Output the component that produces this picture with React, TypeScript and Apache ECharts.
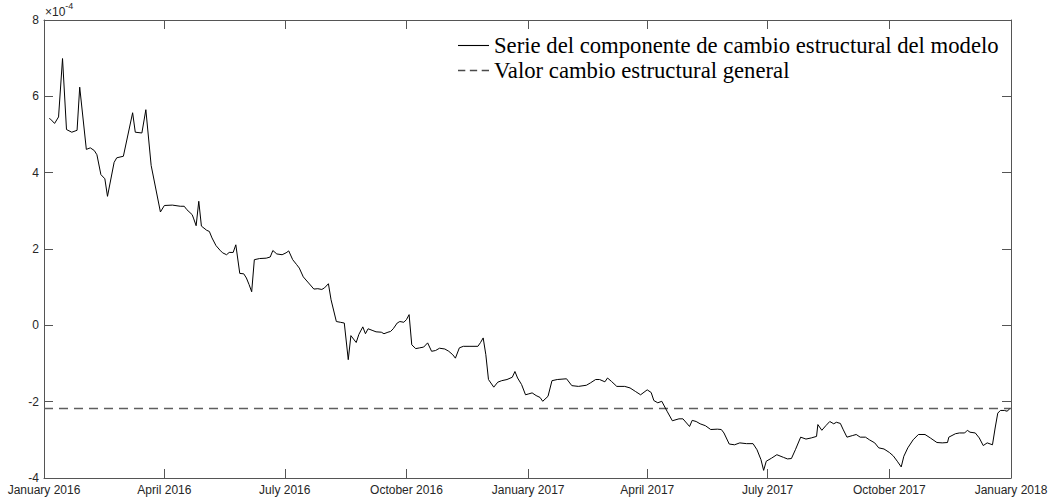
import React, { useEffect, useRef } from "react";
import * as echarts from "echarts";

const monthNames = [
  "January", "February", "March", "April", "May", "June",
  "July", "August", "September", "October", "November", "December",
];

const seriesNames = [
  "Serie del componente de cambio estructural del modelo",
  "Valor cambio estructural general",
];

// values in units of 1e-4
const dates = [
  "2016-01-05", "2016-01-06", "2016-01-09", "2016-01-12", "2016-01-15", "2016-01-18", "2016-01-22", "2016-01-26", "2016-01-28",
  "2016-02-02", "2016-02-05", "2016-02-08", "2016-02-10", "2016-02-13", "2016-02-16", "2016-02-18", "2016-02-23", "2016-02-25",
  "2016-03-01", "2016-03-08", "2016-03-10", "2016-03-15", "2016-03-18", "2016-03-22", "2016-03-29",
  "2016-04-01", "2016-04-07", "2016-04-13", "2016-04-16", "2016-04-18", "2016-04-22", "2016-04-23", "2016-04-25", "2016-04-27", "2016-04-29",
  "2016-05-03", "2016-05-05", "2016-05-07", "2016-05-10", "2016-05-13", "2016-05-15", "2016-05-18", "2016-05-20", "2016-05-23", "2016-05-25", "2016-05-28", "2016-05-31",
  "2016-06-02", "2016-06-04", "2016-06-06", "2016-06-08", "2016-06-12", "2016-06-17", "2016-06-20", "2016-06-22", "2016-06-25", "2016-06-29",
  "2016-07-02", "2016-07-04", "2016-07-07", "2016-07-10", "2016-07-12", "2016-07-15", "2016-07-19", "2016-07-23", "2016-07-26", "2016-07-29", "2016-07-31",
  "2016-08-03", "2016-08-05", "2016-08-09", "2016-08-12", "2016-08-15", "2016-08-18", "2016-08-20", "2016-08-24", "2016-08-26", "2016-08-29", "2016-08-31",
  "2016-09-02", "2016-09-05", "2016-09-08", "2016-09-12", "2016-09-14", "2016-09-17", "2016-09-19", "2016-09-21", "2016-09-24", "2016-09-26", "2016-09-29",
  "2016-10-01", "2016-10-03", "2016-10-05", "2016-10-08", "2016-10-11", "2016-10-14", "2016-10-17", "2016-10-20", "2016-10-23", "2016-10-26", "2016-10-30",
  "2016-11-02", "2016-11-05", "2016-11-07", "2016-11-10", "2016-11-13", "2016-11-18", "2016-11-24", "2016-11-26", "2016-11-28", "2016-11-30",
  "2016-12-02", "2016-12-06", "2016-12-09", "2016-12-12", "2016-12-16", "2016-12-20", "2016-12-22", "2016-12-24", "2016-12-27", "2016-12-30",
  "2017-01-01", "2017-01-04", "2017-01-07", "2017-01-10", "2017-01-12", "2017-01-16", "2017-01-19", "2017-01-23", "2017-01-30",
  "2017-02-03", "2017-02-08", "2017-02-14", "2017-02-17", "2017-02-21", "2017-02-24", "2017-02-28",
  "2017-03-02", "2017-03-05", "2017-03-09", "2017-03-15", "2017-03-19", "2017-03-23", "2017-03-27",
  "2017-04-01", "2017-04-04", "2017-04-06", "2017-04-09", "2017-04-12", "2017-04-16", "2017-04-20", "2017-04-25", "2017-04-28",
  "2017-05-03", "2017-05-05", "2017-05-08", "2017-05-11", "2017-05-15", "2017-05-19", "2017-05-24", "2017-05-27", "2017-05-29",
  "2017-06-02", "2017-06-06", "2017-06-10", "2017-06-15", "2017-06-20", "2017-06-23", "2017-06-26", "2017-06-28", "2017-06-30",
  "2017-07-04", "2017-07-08", "2017-07-13", "2017-07-16", "2017-07-19", "2017-07-22", "2017-07-26", "2017-07-30",
  "2017-08-03", "2017-08-07", "2017-08-08", "2017-08-11", "2017-08-14", "2017-08-17", "2017-08-20", "2017-08-22", "2017-08-25", "2017-08-27", "2017-08-30",
  "2017-09-03", "2017-09-06", "2017-09-09", "2017-09-13", "2017-09-16", "2017-09-20", "2017-09-23", "2017-09-27",
  "2017-10-01", "2017-10-04", "2017-10-07", "2017-10-10", "2017-10-12", "2017-10-15", "2017-10-19", "2017-10-23", "2017-10-28",
  "2017-11-01", "2017-11-06", "2017-11-10", "2017-11-14", "2017-11-15", "2017-11-20", "2017-11-23", "2017-11-27", "2017-11-29",
  "2017-12-01", "2017-12-05", "2017-12-08", "2017-12-11", "2017-12-14", "2017-12-18", "2017-12-20", "2017-12-22", "2017-12-24", "2017-12-27", "2017-12-29", "2017-12-31",
];

const componentValues = [
  5.42, 5.40, 5.29, 5.46, 6.99, 5.13, 5.06, 5.11, 6.24,
  4.61, 4.65, 4.58, 4.47, 3.95, 3.84, 3.38, 4.27, 4.39,
  4.43, 5.57, 5.06, 5.04, 5.65, 4.19, 2.97,
  3.14, 3.15, 3.12, 3.12, 3.03, 2.90, 2.81, 2.61, 3.25, 2.60,
  2.49, 2.46, 2.29, 2.09, 1.97, 1.90, 1.85, 1.91, 1.91, 2.11, 1.36, 1.35,
  1.24, 1.07, 0.88, 1.72, 1.75, 1.76, 1.79, 1.96, 1.87, 1.85,
  1.90, 1.95, 1.72, 1.59, 1.50, 1.27, 1.11, 0.95, 0.96, 0.94, 0.98,
  1.09, 0.67, 0.10, 0.08, 0.06, -0.90, -0.27, -0.45, -0.24, -0.04, -0.22,
  -0.09, -0.13, -0.17, -0.18, -0.22, -0.18, -0.16, -0.09, 0.06, 0.10, 0.08,
  0.15, 0.28, -0.51, -0.61, -0.59, -0.57, -0.46, -0.68, -0.66, -0.60, -0.62,
  -0.68, -0.77, -0.86, -0.59, -0.55, -0.55, -0.55, -0.45, -0.33, -0.77,
  -1.42, -1.62, -1.49, -1.45, -1.42, -1.36, -1.21, -1.38, -1.55, -1.82,
  -1.80, -1.77, -1.84, -1.89, -1.99, -1.86, -1.45, -1.42, -1.40,
  -1.58, -1.60, -1.57, -1.51, -1.42, -1.42, -1.48,
  -1.38, -1.47, -1.60, -1.60, -1.64, -1.73, -1.82,
  -1.69, -1.76, -1.97, -2.03, -1.99, -2.25, -2.50, -2.45, -2.45,
  -2.65, -2.49, -2.52, -2.58, -2.63, -2.73, -2.72, -2.73, -2.82,
  -3.11, -3.13, -3.08, -3.10, -3.10, -3.26, -3.52, -3.80, -3.56,
  -3.48, -3.39, -3.46, -3.50, -3.49, -3.26, -2.93, -2.98,
  -2.95, -2.91, -2.60, -2.75, -2.63, -2.52, -2.58, -2.54, -2.57, -2.72, -2.93,
  -2.89, -2.86, -2.93, -2.93, -3.00, -3.08, -3.21, -3.24,
  -3.33, -3.42, -3.56, -3.71, -3.43, -3.21, -3.00, -2.86, -2.86,
  -2.95, -3.07, -3.08, -3.07, -2.93, -2.84, -2.82, -2.82, -2.75,
  -2.80, -2.82, -2.95, -3.15, -3.08, -3.13, -2.69, -2.30, -2.23, -2.23, -2.25, -2.19,
];

const generalDates = ["2016-01-01", "2018-01-01"];
const generalValues = [-2.18, -2.18];

const xRange = ["2016-01-01", "2018-01-01"];
const yTicks = { min: -4, max: 8, step: 2 };
const exponentLabel = "-4";

const App: React.FC = () => {
  const ref = useRef<HTMLDivElement>(null);

  useEffect(() => {
    if (!ref.current) return;
    const chart = echarts.init(ref.current, null, { renderer: "svg" });
    const DAY = 86400000;
    const axisColor = "#555555";
    const labelColor = "#262626";
    const labelFont = "Liberation Sans, Arial, sans-serif";
    const legendFont = "Times New Roman, Liberation Serif, serif";

    const fmt = (v: number) => {
      const d = new Date(v);
      return monthNames[d.getMonth()] + " " + d.getFullYear();
    };

    const xBase = {
      type: "time" as const,
      min: xRange[0],
      max: xRange[1],
      minInterval: 93 * DAY,
      maxInterval: 93 * DAY,
      splitLine: { show: false },
      axisLine: { show: true, onZero: false, lineStyle: { color: axisColor, width: 1 } },
      axisTick: { show: true, inside: true, length: 9, lineStyle: { color: axisColor } },
    };
    const yBase = {
      type: "value" as const,
      min: yTicks.min,
      max: yTicks.max,
      interval: yTicks.step,
      splitLine: { show: false },
      axisLine: { show: true, onZero: false, lineStyle: { color: axisColor, width: 1 } },
      axisTick: { show: true, inside: true, length: 9, lineStyle: { color: axisColor } },
    };

    chart.setOption({
      animation: false,
      backgroundColor: "#ffffff",
      grid: { left: 44, right: 41, top: 20, bottom: 22, containLabel: false },
      legend: {
        orient: "vertical",
        left: 453,
        top: 29,
        itemWidth: 31,
        itemHeight: 14,
        itemGap: 2,
        selectedMode: false,
        textStyle: { fontFamily: legendFont, fontSize: 22.7, color: "#000000" },
        data: [
          {
            name: seriesNames[0],
            icon: "path://M0,0h34v1.2h-34z",
            itemStyle: { color: "#000000" },
          },
          {
            name: seriesNames[1],
            icon: "path://M0,0h8v1.4h-8z M13,0h8v1.4h-8z M26,0h8v1.4h-8z",
            itemStyle: { color: "#4a4a4a" },
          },
        ],
      },
      xAxis: [
        {
          ...xBase,
          position: "bottom",
          axisLabel: {
            show: true,
            formatter: fmt,
            color: labelColor,
            fontFamily: labelFont,
            fontSize: 12,
            margin: 6,
            showMinLabel: true,
            showMaxLabel: true,
            hideOverlap: false,
          },
        },
        {
          ...xBase,
          position: "top",
          axisLabel: { show: false },
        },
      ],
      yAxis: [
        {
          ...yBase,
          position: "left",
          axisLabel: { show: true, color: labelColor, fontFamily: labelFont, fontSize: 12, margin: 5 },
        },
        {
          ...yBase,
          position: "right",
          axisLabel: { show: false },
        },
      ],
      graphic: [
        {
          type: "text",
          left: 45,
          top: 1,
          style: {
            text: "{a|×10}{b|" + exponentLabel + "}",
            rich: {
              a: { fontFamily: labelFont, fontSize: 12, fill: labelColor, padding: [6, 0, 0, 0] },
              b: { fontFamily: labelFont, fontSize: 9, fill: labelColor, padding: [0, 0, 6, 0] },
            },
          },
        },
      ],
      series: [
        {
          name: seriesNames[0],
          type: "line",
          xAxisIndex: 0,
          yAxisIndex: 0,
          data: dates.map((d, i) => [d, componentValues[i]]),
          showSymbol: false,
          symbol: "none",
          lineStyle: { color: "#000000", width: 1 },
          itemStyle: { color: "#000000" },
          z: 3,
        },
        {
          name: seriesNames[1],
          type: "line",
          xAxisIndex: 0,
          yAxisIndex: 0,
          data: generalDates.map((d, i) => [d, generalValues[i]]),
          showSymbol: false,
          symbol: "none",
          lineStyle: { color: "#5f5f5f", width: 1.5, type: [9, 6] },
          itemStyle: { color: "#5f5f5f" },
          z: 2,
        },
      ],
    });
    return () => chart.dispose();
  }, []);

  return (
    <div
      ref={ref}
      style={{ position: "absolute", left: 0, top: 0, width: 1052, height: 500, background: "#fff" }}
    />
  );
};

export default App;
